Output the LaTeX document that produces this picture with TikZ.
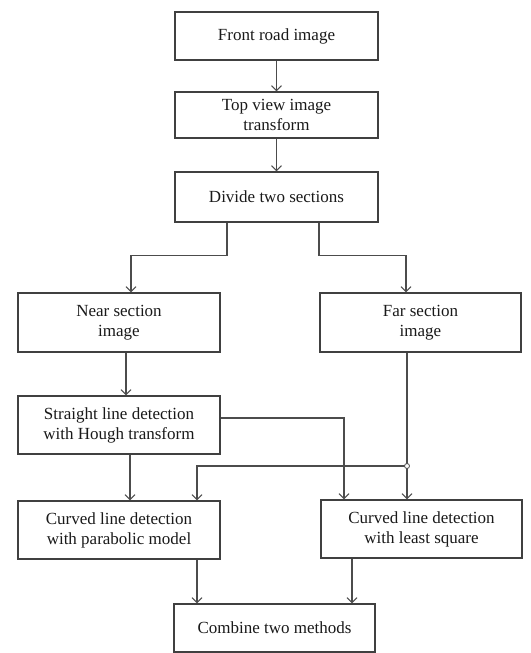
\documentclass[tikz,border=0pt]{standalone}
\usepackage{fontspec}
\setmainfont{Liberation Serif}
\usetikzlibrary{arrows.meta}
\begin{document}
\begin{tikzpicture}[x=1pt,y=-1pt,
  box/.style={draw=black!75,line width=1.1pt,rectangle,align=center,inner sep=2pt,
    font=\fontsize{17}{20}\selectfont,text=black!90},
  arr/.style={draw=black!70,line width=1.1pt,-{Straight Barb[length=5pt,width=10pt]}},
  ln/.style={draw=black!70,line width=1.1pt}]
\useasboundingbox (0,0) rectangle (530,653);
\node[box,minimum width=203pt,minimum height=48pt] (b1) at (276.5,36) {Front road image};
\node[box,minimum width=203pt,minimum height=46pt] (b2) at (276.5,115) {Top view image\\transform};
\node[box,minimum width=203pt,minimum height=50pt] (b3) at (276.5,197) {Divide two sections};
\node[box,minimum width=202pt,minimum height=59pt] (near) at (119,322.5) {Near section\\image};
\node[box,minimum width=201pt,minimum height=59pt] (far) at (420.5,322.5) {Far section\\image};
\node[box,minimum width=202pt,minimum height=58pt] (str) at (119,425) {Straight line detection\\with Hough transform};
\node[box,minimum width=202pt,minimum height=58pt] (cl) at (119,530) {Curved line detection\\with parabolic model};
\node[box,minimum width=201pt,minimum height=58pt] (cr) at (421.5,529) {Curved line detection\\with least square};
\node[box,minimum width=201pt,minimum height=48pt] (cmb) at (274.5,628) {Combine two methods};
\coordinate (j) at (407,466);
\draw[arr] (b1) -- (b2);
\draw[arr] (b2) -- (b3);
\draw[arr] ([xshift=-49.5]b3.south) -- ++(0,33) -| ([xshift=12]near.north);
\draw[arr] ([xshift=42.5]b3.south) -- ++(0,33) -| ([xshift=-14.5]far.north);
\draw[arr] ([xshift=7]near.south) -- ([xshift=7]str.north);
\draw[arr] ([yshift=7]str.east) -| ([xshift=-77.5]cr.north);
\draw[arr] ([xshift=-13.5]far.south) -- ([xshift=-14.5]cr.north);
\draw[arr] (j) -| ([xshift=78]cl.north);
\draw[arr] ([xshift=11]str.south) -- ([xshift=11]cl.north);
\draw[arr] ([xshift=78]cl.south) -- ([xshift=-77.5]cmb.north);
\draw[arr] ([xshift=-69.5]cr.south) -- ([xshift=77.5]cmb.north);
\draw[ln,fill=white,line width=0.8pt] (j) circle (2.5pt);
\end{tikzpicture}
\end{document}
